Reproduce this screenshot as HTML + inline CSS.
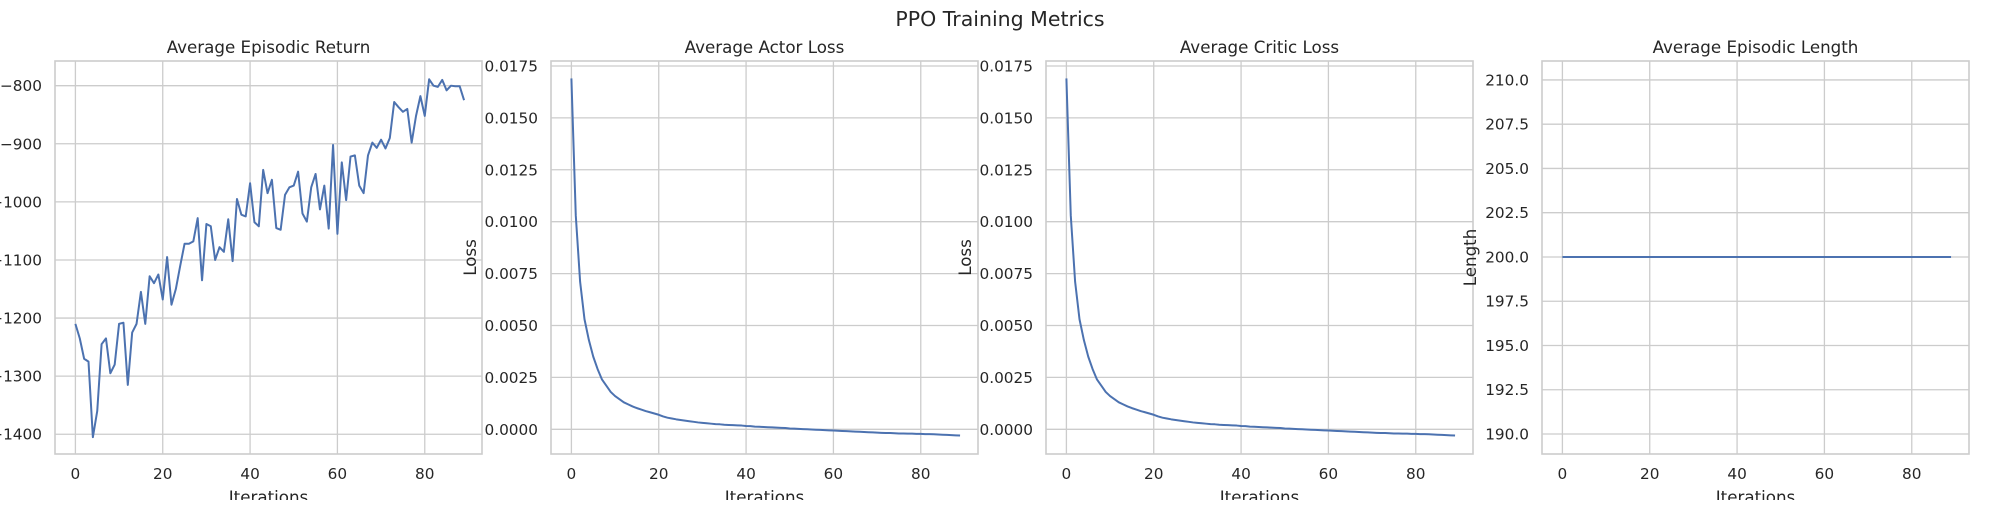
<!DOCTYPE html>
<html><head><meta charset="utf-8"><style>
html,body{margin:0;padding:0;background:#fff;}
svg text{font-family:"DejaVu Sans","Liberation Sans",sans-serif;fill:#262626;}
</style></head><body>
<svg id="fig" width="2000" height="500" xmlns="http://www.w3.org/2000/svg">
<text x="1000" y="26" text-anchor="middle" font-size="20.5">PPO Training Metrics</text>
</svg>
<script>
const iterations = Array.from({length:90},(_,i)=>i);
const returnValues = [-1210,-1235,-1270,-1275,-1405,-1360,-1245,-1235,-1295,-1280,-1210,-1208,-1315,-1225,-1210,-1155,-1210,-1128,-1140,-1125,-1168,-1095,-1177,-1150,-1110,-1072,-1072,-1068,-1028,-1135,-1038,-1042,-1100,-1078,-1086,-1030,-1102,-995,-1022,-1025,-968,-1035,-1042,-945,-985,-962,-1045,-1048,-988,-975,-972,-948,-1020,-1034,-975,-952,-1013,-972,-1046,-902,-1055,-932,-997,-922,-920,-972,-985,-920,-898,-907,-893,-908,-890,-828,-837,-845,-840,-898,-852,-818,-852,-789,-800,-802,-790,-808,-800,-801,-801,-825];
const actorLoss = [0.0169,0.0103,0.0071,0.0053,0.0043,0.0035,0.0029,0.0024,0.0021,0.0018,0.0016,0.00145,0.0013,0.0012,0.0011,0.00102,0.00095,0.00088,0.00082,0.00076,0.0007,0.00062,0.00056,0.00052,0.00048,0.00045,0.00042,0.00039,0.00036,0.00033,0.00031,0.00029,0.00027,0.00025,0.00024,0.00022,0.00021,0.0002,0.00019,0.00018,0.00016,0.00015,0.00013,0.00012,0.00011,0.0001,0.00009,0.00008,0.00007,0.00006,0.00004,0.00003,0.00002,0.00001,0,-0.00001,-0.00002,-0.00003,-0.00004,-0.00005,-0.00006,-0.00007,-0.00008,-0.00009,-0.0001,-0.00011,-0.00012,-0.00013,-0.00014,-0.00015,-0.00016,-0.00017,-0.00018,-0.00018,-0.00019,-0.0002,-0.0002,-0.00021,-0.00021,-0.00022,-0.00022,-0.00023,-0.00023,-0.00024,-0.00025,-0.00026,-0.00027,-0.00028,-0.00029,-0.0003];
const criticLoss = actorLoss.slice();
const lengthValues = Array.from({length:90},()=>200);
const xTicks = [0,20,40,60,80];
const returnTicks = [-1400,-1300,-1200,-1100,-1000,-900,-800];
const lossTicks = [0,0.0025,0.005,0.0075,0.01,0.0125,0.015,0.0175];
const lengthTicks = [190,192.5,195,197.5,200,202.5,205,207.5,210];

const NS="http://www.w3.org/2000/svg";
const svg=document.getElementById('fig');
function mk(tag,attrs,parent){const e=document.createElementNS(NS,tag);for(const k in attrs)e.setAttribute(k,attrs[k]);(parent||svg).appendChild(e);return e;}

function panel(cfg){
  const L=cfg.left,R=L+427,T=61,B=454;
  const g=mk('g',{});
  
  
  const xs=v=>L+20.4+v*4.367;
  const ys=v=>B-(v-cfg.ymin)/(cfg.ymax-cfg.ymin)*(B-T);
  xTicks.forEach(t=>{
    const l=mk('line',{x1:xs(t),x2:xs(t),y1:T,y2:B,stroke:'#cccccc','stroke-width':1.3},g);
    
    
    const tx=mk('text',{x:xs(t),y:479,'text-anchor':'middle','font-size':15.3},g);
    tx.textContent=t;
    
    
  });
  cfg.yticks.forEach(t=>{
    const l=mk('line',{x1:L,x2:R,y1:ys(t),y2:ys(t),stroke:'#cccccc','stroke-width':1.3},g);
    
    
    const tx=mk('text',{x:L-13,y:ys(t)+5.5,'text-anchor':'end','font-size':15.3},g);
    tx.textContent=cfg.fmt(t);
    
    
  });
  const r=mk('rect',{x:L,y:T,width:R-L,height:B-T,fill:'none',stroke:'#cccccc','stroke-width':1.6},g);
  
  
  const pts=cfg.values.map((v,i)=>xs(iterations[i]).toFixed(2)+','+ys(v).toFixed(2)).join(' ');
  const pl=mk('polyline',{points:pts,fill:'none',stroke:'#4c72b0','stroke-width':2,'stroke-linejoin':'round'},g);
  
  
  const ti=mk('text',{x:(L+R)/2,y:53,'text-anchor':'middle','font-size':16.7},g);
  ti.textContent=cfg.title;
  
  
  const xl=mk('text',{x:(L+R)/2,y:503,'text-anchor':'middle','font-size':16.7},g);
  xl.textContent='Iterations';
  
  
  if(cfg.ylabel){
    const yl=mk('text',{x:0,y:0,'text-anchor':'middle','font-size':16.7,transform:`translate(${cfg.ylabelX},${(T+B)/2}) rotate(-90)`},g);
    yl.textContent=cfg.ylabel;
    
    
  }
}
panel({name:'return-panel',left:55,ymin:-1434,ymax:-757.5,yticks:returnTicks,fmt:t=>String(t).replace('-','\u2212'),values:returnValues,title:'Average Episodic Return'});
panel({name:'actor-loss-panel',left:551,ymin:-0.00119,ymax:0.01774,yticks:lossTicks,fmt:t=>t.toFixed(4),values:actorLoss,title:'Average Actor Loss',ylabel:'Loss',ylabelX:476});
panel({name:'critic-loss-panel',left:1046,ymin:-0.00119,ymax:0.01774,yticks:lossTicks,fmt:t=>t.toFixed(4),values:criticLoss,title:'Average Critic Loss',ylabel:'Loss',ylabelX:971});
panel({name:'length-panel',left:1542,ymin:188.87,ymax:211.07,yticks:lengthTicks,fmt:t=>t.toFixed(1),values:lengthValues,title:'Average Episodic Length',ylabel:'Length',ylabelX:1476});
</script>
</body></html>
